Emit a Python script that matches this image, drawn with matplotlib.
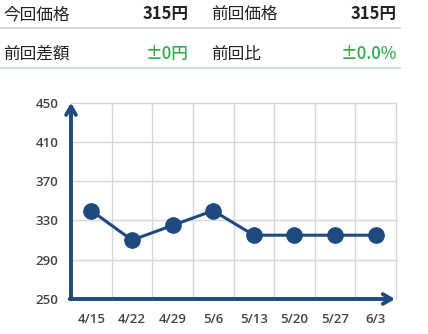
import matplotlib
matplotlib.use("Agg")
import matplotlib.pyplot as plt
from matplotlib.lines import Line2D

plt.rcParams['font.family'] = ['Noto Sans CJK JP', 'DejaVu Sans']

# Price history
dates = ["4/15", "4/22", "4/29", "5/6", "5/13", "5/20", "5/27", "6/3"]
prices = [340, 310, 325, 340, 315, 315, 315, 315]
y_ticks = [250, 290, 330, 370, 410, 450]

# Summary table
summary_labels = ["今回価格", "前回価格", "前回差額", "前回比"]
summary_values = ["315円", "315円", "±0円", "±0.0%"]

W, H = 428, 334
NAVY = "#1f4a80"
GREEN = "#2eaa4f"
TEXT = "#222222"

fig = plt.figure(figsize=(W / 100, H / 100), dpi=100)
fig.patch.set_facecolor("white")


def fy(py):
    return 1 - py / H


def fx(px):
    return px / W


# Header rows
rows = [(14.5, summary_labels[0], summary_values[0], summary_labels[1], summary_values[1], TEXT, "bold"),
        (54, summary_labels[2], summary_values[2], summary_labels[3], summary_values[3], GREEN, "medium")]
for ry, l1, v1, l2, v2, vcol, vw in rows:
    fig.text(fx(3), fy(ry), l1, fontsize=12, color=TEXT, va="center", ha="left")
    fig.text(fx(189), fy(ry), v1, fontsize=12, color=vcol, va="center", ha="right", fontweight=vw)
    fig.text(fx(211), fy(ry), l2, fontsize=12, color=TEXT, va="center", ha="left")
    fig.text(fx(397), fy(ry), v2, fontsize=12, color=vcol, va="center", ha="right", fontweight=vw)

fig.add_artist(Line2D([0, fx(400)], [fy(28), fy(28)], color="#cfcfcf", lw=1.2))
fig.add_artist(Line2D([0, fx(400)], [fy(68), fy(68)], color="#b9d3ee", lw=1.2))

# Chart
ax = fig.add_axes([fx(71), fy(299), (396 - 71) / W, (299 - 102.7) / H])
x = list(range(len(dates)))
ax.set_xlim(-0.5, len(dates) - 0.5)
ax.set_ylim(y_ticks[0], y_ticks[-1])

for v in y_ticks[1:]:
    ax.axhline(v, color="#d6d6d6", lw=1, zorder=0, clip_on=False)
for i in range(len(dates)):
    ax.axvline(i + 0.5, color="#d6d6d6", lw=1, zorder=0, clip_on=False)

ax.plot(x, prices, color=NAVY, lw=2.2, marker="o", markersize=11,
        markerfacecolor=NAVY, markeredgecolor=NAVY, zorder=3, clip_on=False)

for s in ax.spines.values():
    s.set_visible(False)

tick_font = dict(family=["Open Sans", "DejaVu Sans"], weight="semibold", size=9.5)
ax.set_xticks(x)
ax.set_xticklabels(dates, **tick_font)
ax.set_yticks(y_ticks)
ax.set_yticklabels([str(v) for v in y_ticks], **tick_font)
ax.tick_params(length=0, colors="#444444")
ax.tick_params(axis="x", pad=10)
ax.tick_params(axis="y", pad=9)

# Axis arrows
head = "->,head_length=0.6,head_width=0.35"
ax.annotate("", xy=(0, 1.0), xytext=(0, 0), xycoords="axes fraction",
            arrowprops=dict(arrowstyle=head, color=NAVY, lw=2.8, shrinkA=0, shrinkB=0),
            annotation_clip=False)
ax.annotate("", xy=(0.997, 0), xytext=(-0.004, 0), xycoords="axes fraction",
            arrowprops=dict(arrowstyle=head, color=NAVY, lw=2.8, shrinkA=0, shrinkB=0),
            annotation_clip=False)

fig.savefig("out.png", dpi=100, facecolor="white")
